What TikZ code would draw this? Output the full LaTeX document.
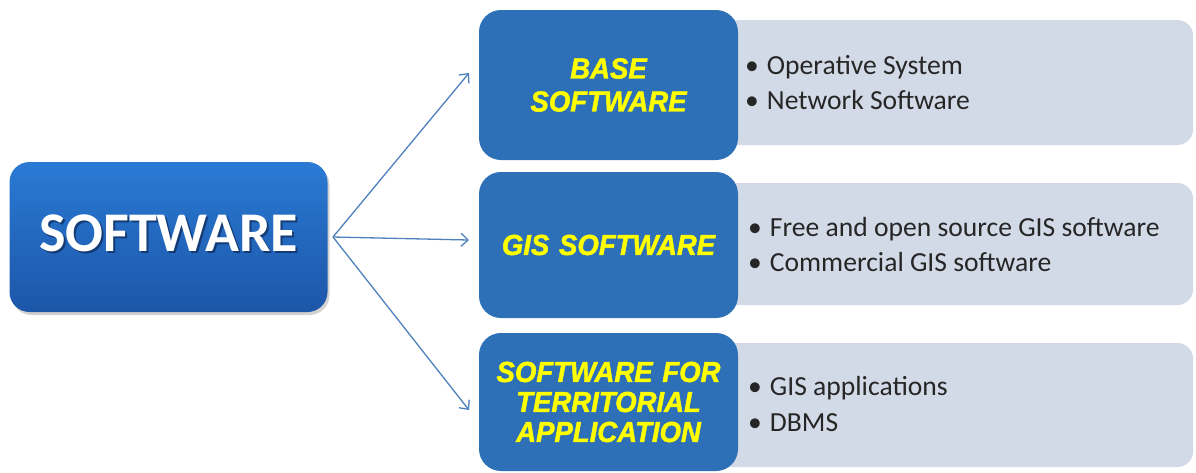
\documentclass[tikz,border=0pt]{standalone}
\usepackage{fontspec}
\setmainfont{Carlito}
\newfontfamily\boxfont[FakeStretch=0.95, BoldItalicFeatures={FakeBold=1.5}]{Liberation Sans}
\usetikzlibrary{shadows,arrows.meta}
\definecolor{boxblue}{RGB}{46,112,183}
\definecolor{maintop}{RGB}{42,122,212}
\definecolor{mainbot}{RGB}{28,86,168}
\definecolor{panelgrey}{RGB}{211,218,231}
\definecolor{arrowblue}{RGB}{79,129,189}
\definecolor{boxyellow}{RGB}{255,255,0}
\definecolor{itemtext}{RGB}{38,38,38}
\definecolor{shadowblue}{RGB}{10,30,70}
\begin{document}
\begin{tikzpicture}[x=1pt,y=-1pt,
  mainbox/.style={rounded corners=20pt, top color=maintop, bottom color=mainbot, minimum width=318pt, minimum height=150pt, inner sep=0pt,
    drop shadow={shadow xshift=2pt, shadow yshift=-3pt, opacity=0.35}},
  maintext/.style={font=\bfseries\fontsize{56}{60}\selectfont, inner sep=0pt},
  catbox/.style={rounded corners=22pt, fill=boxblue, minimum width=259pt, text width=250pt, align=center, inner sep=0pt,
    text=boxyellow},
  catfont/.style={font=\boxfont\bfseries\itshape\fontsize{29}{#1}\selectfont},
  panel/.style={rounded corners=16pt, fill=panelgrey, minimum width=493pt, anchor=west, inner sep=0pt},
  item/.style={anchor=base west, font=\fontsize{27.6}{30}\selectfont, text=itemtext, inner sep=0pt},
  conn/.style={draw=arrowblue, line width=1.3pt, -{Straight Barb[length=7pt,width=13pt]}}
]
\useasboundingbox (0,0) rectangle (1196,472);
\fill[white] (0,0) rectangle (1196,472);

% grey panels
\node[panel, minimum height=125pt] (p1) at (700,82.5) {};
\node[panel, minimum height=122pt] (p2) at (700,244) {};
\node[panel, minimum height=124pt] (p3) at (700,405) {};

% category boxes
\node[catbox, catfont=33, minimum height=150pt] (b1) at (608.5,85) {BASE\\SOFTWARE};
\node[catbox, catfont=33, minimum height=146pt] (b2) at (608.5,245) {GIS SOFTWARE};
\node[catbox, catfont=30, minimum height=138pt] (b3) at (608.5,402) {SOFTWARE FOR\\TERRITORIAL\\APPLICATION};

% main box
\node[mainbox] (main) at (168.5,237) {};
\node[maintext, text=shadowblue, opacity=0.6] (mainsh) at (170.5,235.5) {SOFTWARE};
\node[maintext, text=white] (mainlbl) at (168.5,233.5) {SOFTWARE};

% items
\node[item] (i11) at (745,74) {•\hskip 8pt Operative System};
\node[item] (i12) at (745,109) {•\hskip 8pt Network Software};
\node[item] (i21) at (748,236) {•\hskip 8pt Free and open source GIS software};
\node[item] (i22) at (748,271) {•\hskip 8pt Commercial GIS software};
\node[item] (i31) at (748,395) {•\hskip 8pt GIS applications};
\node[item] (i32) at (748,431) {•\hskip 8pt DBMS};

% connectors
\coordinate (src) at (333,237);
\coordinate (t1) at (469,73);
\coordinate (t2) at (469,240);
\coordinate (t3) at (469,410);
\draw[conn] (src) -- (t1);
\draw[conn] (src) -- (t2);
\draw[conn] (src) -- (t3);
\end{tikzpicture}
\end{document}
